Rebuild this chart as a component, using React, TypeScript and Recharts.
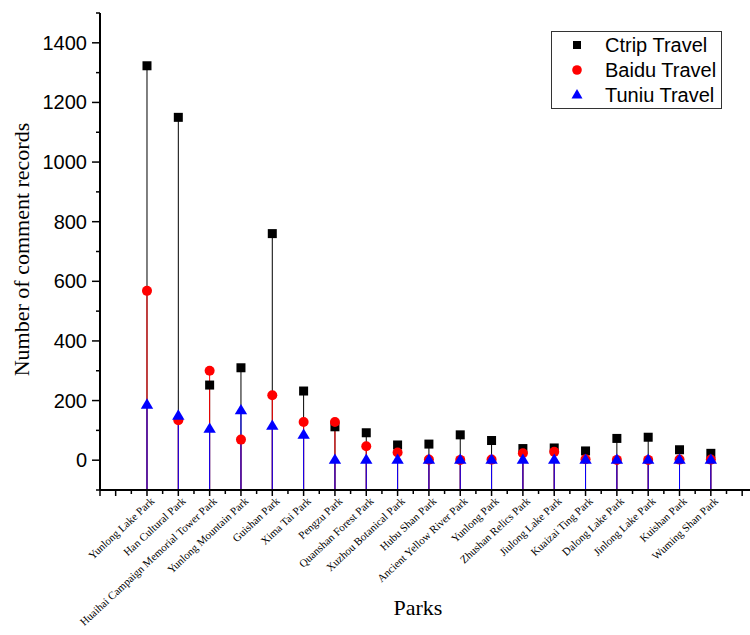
import React from 'react';
import { ComposedChart, Scatter, XAxis, YAxis, ErrorBar, Legend, Label } from 'recharts';

const parks = [
  'Yunlong Lake Park', 'Han Cultural Park', 'Huaihai Campaign Memorial Tower Park', 'Yunlong Mountain Park',
  'Guishan Park', 'Xima Tai Park', 'Pengzu Park', 'Quanshan Forest Park', 'Xuzhou Botanical Park',
  'Hubu Shan Park', 'Ancient Yellow River Park', 'Yunlong Park', 'Zhushan Relics Park', 'Jiulong Lake Park',
  'Kuaizai Ting Park', 'Dalong Lake Park', 'Jinlong Lake Park', 'Kuishan Park', 'Wuming Shan Park',
];
const ctrip = [1323, 1150, 252, 310, 760, 232, 112, 92, 51, 54, 85, 66, 39, 41, 31, 73, 77, 35, 23];
const baidu = [568, 134, 300, 69, 218, 128, 128, 47, 26, 2, 1, 2, 23, 28, 3, 1, 1, 2, 2];
const tuniu = [185, 148, 104, 166, 114, 84, 0, 0, 0, 0, 0, 0, 0, 0, 0, 0, 0, 0, 0];

const seriesNames = ['Ctrip Travel', 'Baidu Travel', 'Tuniu Travel'];
const seriesColors = ['#000000', '#ff0000', '#0000ff'];

const Y_MIN = -100;
const Y_MAX = 1500;
const yTicks = [-100, 0, 100, 200, 300, 400, 500, 600, 700, 800, 900, 1000, 1100, 1200, 1300, 1400, 1500];
const yLabelTicks = [0, 200, 400, 600, 800, 1000, 1200, 1400];
const X_MIN = -0.5;
const X_MAX = 20.25;
const xTicks: number[] = [];
for (let t = -0.5; t <= 20; t += 0.5) xTicks.push(t);

const table = parks.map((name, i) => ({
  idx: i + 1,
  name,
  ctrip: ctrip[i],
  baidu: baidu[i],
  tuniu: tuniu[i],
  ctripDrop: [ctrip[i] - Y_MIN, 0],
  baiduDrop: [baidu[i] - Y_MIN, 0],
  tuniuDrop: [tuniu[i] - Y_MIN, 0],
}));

const SANS = "'Liberation Sans', Arial, sans-serif";
const SERIF = "'Liberation Serif', 'Times New Roman', serif";

const Square = (props: any) => {
  const { cx, cy } = props;
  if (cx == null || cy == null) return null;
  return <rect x={cx - 4.5} y={cy - 4.5} width={9} height={9} fill={seriesColors[0]} />;
};
const Dot = (props: any) => {
  const { cx, cy } = props;
  if (cx == null || cy == null) return null;
  return <circle cx={cx} cy={cy} r={5} fill={seriesColors[1]} />;
};
const Tri = (props: any) => {
  const { cx, cy } = props;
  if (cx == null || cy == null) return null;
  return (
    <polygon
      points={`${cx},${cy - 6.7} ${cx + 6.2},${cy + 3.6} ${cx - 6.2},${cy + 3.6}`}
      fill={seriesColors[2]}
    />
  );
};

const YTick = (props: any) => {
  const { x, y, payload } = props;
  const v = payload.value;
  const major = yLabelTicks.includes(v);
  return (
    <g>
      <line x1={x} x2={x - (major ? 8 : 4)} y1={y} y2={y} stroke="#000" strokeWidth={1.5} />
      {major && (
        <text x={x - 13} y={y} textAnchor="end" dominantBaseline="central" fontFamily={SANS} fontSize={20} fill="#000">
          {v}
        </text>
      )}
    </g>
  );
};

const XTick = (props: any) => {
  const { x, y, payload } = props;
  const v = payload.value;
  const major = Number.isInteger(v) || v === X_MIN;
  const label = Number.isInteger(v) && v >= 1 && v <= parks.length ? parks[v - 1] : null;
  const ax = x + 8;
  const ay = y + 12;
  return (
    <g>
      <line x1={x} x2={x} y1={y} y2={y + (major ? 6 : 4)} stroke="#000" strokeWidth={1.5} />
      {label && (
        <text
          x={ax}
          y={ay}
          transform={`rotate(-43, ${ax}, ${ay})`}
          textAnchor="end"
          fontFamily={SERIF}
          fontSize={11}
          fill="#000"
        >
          {label}
        </text>
      )}
    </g>
  );
};

const markerShapes = [
  (cx: number, cy: number) => <rect x={cx - 4} y={cy - 4} width={8} height={8} fill={seriesColors[0]} />,
  (cx: number, cy: number) => <circle cx={cx} cy={cy} r={4.8} fill={seriesColors[1]} />,
  (cx: number, cy: number) => (
    <polygon points={`${cx},${cy - 6} ${cx + 5.5},${cy + 3.5} ${cx - 5.5},${cy + 3.5}`} fill={seriesColors[2]} />
  ),
];

const LegendBox = () => (
  <svg width={171} height={78} style={{ display: 'block' }}>
    <rect x={0.5} y={0.5} width={170} height={77} fill="#fff" stroke="#333" strokeWidth={1} />
    {seriesNames.map((n, i) => {
      const cy = 14 + i * 25;
      return (
        <g key={n}>
          {markerShapes[i](26, cy)}
          <text x={54} y={cy} dominantBaseline="central" fontFamily={SANS} fontSize={20} fill="#000">
            {n}
          </text>
        </g>
      );
    })}
  </svg>
);

export default function App() {
  return (
    <div style={{ position: 'absolute', left: 0, top: 0, width: 750, height: 635, background: '#fff' }}>
      <ComposedChart width={750} height={635} data={table} margin={{ top: 13, right: 0, bottom: 0, left: 0 }}>
        <XAxis
          dataKey="idx"
          type="number"
          domain={[X_MIN, X_MAX]}
          allowDataOverflow
          ticks={xTicks}
          interval={0}
          tickSize={0}
          tickMargin={0}
          tick={<XTick />}
          tickLine={false}
          axisLine={{ stroke: '#000', strokeWidth: 2 }}
          height={145}
        >
          <Label
            content={(p: any) => {
              const vb = p.viewBox;
              return (
                <text x={vb.x + vb.width / 2 - 7} y={615} textAnchor="middle" fontFamily={SERIF} fontSize={22} fill="#000">
                  Parks
                </text>
              );
            }}
          />
        </XAxis>
        <YAxis
          type="number"
          domain={[Y_MIN, Y_MAX]}
          allowDataOverflow
          ticks={yTicks}
          interval={0}
          tickSize={0}
          tickMargin={0}
          tick={<YTick />}
          tickLine={false}
          axisLine={{ stroke: '#000', strokeWidth: 2 }}
          width={100}
        >
          <Label
            content={(p: any) => {
              const vb = p.viewBox;
              const cx = 29;
              const cy = vb.y + vb.height / 2 - 2;
              return (
                <text x={cx} y={cy} transform={`rotate(-90, ${cx}, ${cy})`} textAnchor="middle" fontFamily={SERIF} fontSize={22} fill="#000">
                  Number of comment records
                </text>
              );
            }}
          />
        </YAxis>
        <Scatter name={seriesNames[0]} dataKey="ctrip" shape={Square} isAnimationActive={false}>
          <ErrorBar dataKey="ctripDrop" direction="y" width={0} stroke={seriesColors[0]} strokeWidth={1} />
        </Scatter>
        <Scatter name={seriesNames[1]} dataKey="baidu" shape={Dot} isAnimationActive={false}>
          <ErrorBar dataKey="baiduDrop" direction="y" width={0} stroke={seriesColors[1]} strokeWidth={1} />
        </Scatter>
        <Scatter name={seriesNames[2]} dataKey="tuniu" shape={Tri} isAnimationActive={false}>
          <ErrorBar dataKey="tuniuDrop" direction="y" width={0} stroke={seriesColors[2]} strokeWidth={1} />
        </Scatter>
        <Legend
          layout="vertical"
          align="center"
          verticalAlign="middle"
          wrapperStyle={{ position: 'absolute', left: 551, top: 31, width: 171, height: 78 }}
          content={() => <LegendBox />}
        />
      </ComposedChart>
    </div>
  );
}
